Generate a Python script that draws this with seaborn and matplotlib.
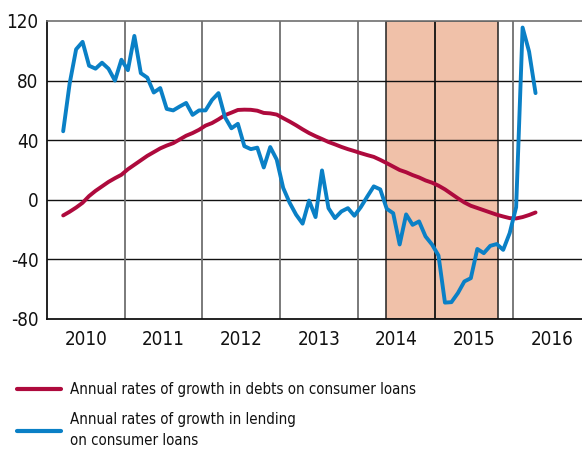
import numpy as np
import pandas as pd
import matplotlib
matplotlib.use("Agg")
import matplotlib.pyplot as plt
import seaborn as sns

# monthly observations, March 2010 .. April 2016
start_month = 2      # index of March 2010 counted from Jan 2010
debts = [-10.5, -8, -5.2, -2, 2.5, 6, 9, 12, 14.5, 16.8,
         20.5, 23.5, 26.5, 29.5, 32, 34.5, 36.4, 38, 40.5, 43,
         44.8, 47, 49.8, 51.5, 54, 56.8, 58.5, 60.3, 60.5, 60.4,
         59.8, 58.3, 58, 57.2, 54.8, 52.5, 50, 47.3, 44.8, 42.7,
         40.8, 38.8, 37.2, 35.5, 34, 32.7, 31.3, 30, 28.8, 26.8,
         24.6, 22.3, 20, 18.5, 16.6, 15, 13, 11.5, 9.5, 7,
         4, 1, -1.8, -4, -5.5, -7, -8.5, -10, -11.2, -12.3,
         -12.5, -11.6, -10.2, -8.5]
lending = [46, 78, 101, 106, 90, 88, 92, 88, 80, 94,
           87, 110, 85, 82, 72, 75, 61, 60, 62.6, 65,
           57, 60, 60, 67, 71.6, 55.5, 48, 51, 36, 34,
           35, 21.7, 35.4, 27, 8, -2, -10, -16, -0.5, -11.6,
           19.7, -5.6, -12.3, -7.8, -5.6, -10.7, -4.9, 2.2, 9, 7,
           -6, -9, -30, -9.8, -16.8, -14.5, -24.6, -30, -37.4, -69,
           -68.7, -62.6, -54.8, -52.6, -33, -35.8, -30.9, -29.7, -33.6, -22.4,
           -5, 115.6, 99.5, 71.6]
years = [2010, 2011, 2012, 2013, 2014, 2015, 2016]
shade_period = (2014.363, 2015.81)
y_ticks = [-80, -40, 0, 40, 80, 120]

label_debts = "Annual rates of growth in debts on consumer loans"
label_lending = "Annual rates of growth in lending\non consumer loans"

x = 2010 + (np.arange(len(debts)) + start_month + 0.5) / 12
df = pd.DataFrame({"x": x, "debts": debts, "lending": lending})

sns.set_style("white")
plt.rcParams["font.family"] = ["DejaVu Sans"]
plt.rcParams["font.stretch"] = "condensed"

fig = plt.figure(figsize=(5.82, 4.58), dpi=100)
ax = fig.add_axes([47 / 582, 1 - 319 / 458, 1 - 47 / 582, (319 - 21) / 458])

red = "#ae0a3d"
blue = "#0a80c6"

ax.axvspan(*shade_period, facecolor="#f0c1a9", edgecolor="#222222", lw=1.1, zorder=0)
for yv in y_ticks[1:-1]:
    ax.axhline(yv, color="#111111", lw=1.0, zorder=1)
for yr in years[1:]:
    c = "#111111" if shade_period[0] < yr < shade_period[1] else "#707070"
    ax.axvline(yr, color=c, lw=1.3, zorder=1)

sns.lineplot(data=df, x="x", y="debts", color=red, lw=2.8, ax=ax,
             label=label_debts, zorder=3)
sns.lineplot(data=df, x="x", y="lending", color=blue, lw=2.8, ax=ax,
             label=label_lending, zorder=3)

ax.set_xlim(2010, 2016.89)
ax.set_ylim(-80, 120)
ax.set_yticks(y_ticks)
ax.set_yticklabels([str(v) for v in y_ticks])
ax.set_xticks([yr + 0.5 for yr in years])
ax.set_xticklabels([str(yr) for yr in years])
ax.tick_params(axis="both", length=0, labelsize=13.5, colors="#111111")
ax.tick_params(axis="y", pad=6)
ax.tick_params(axis="x", pad=8)
ax.set_xlabel("")
ax.set_ylabel("")

for side in ["left", "bottom"]:
    ax.spines[side].set_color("#111111")
    ax.spines[side].set_linewidth(1.3)
ax.spines["top"].set_color("#707070")
ax.spines["top"].set_linewidth(1.2)
ax.spines["right"].set_visible(False)

handles, labels = ax.get_legend_handles_labels()
ax.get_legend().remove()
leg = fig.legend(handles, labels, loc="upper left", bbox_to_anchor=(17 / 582, 1 - 382 / 458),
                 frameon=False, fontsize=10.8, handlelength=2.9, handletextpad=0.6,
                 borderpad=0, borderaxespad=0, labelspacing=1.0)
for line in leg.get_lines():
    line.set_linewidth(3)
for t in leg.get_texts():
    t.set_linespacing(1.5)
    t.set_color("#111111")

fig.savefig("out.png", dpi=100)
